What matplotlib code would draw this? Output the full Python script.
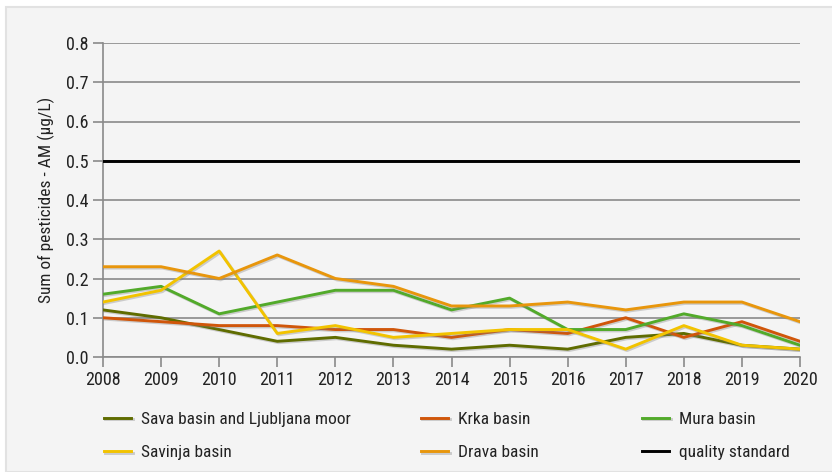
import matplotlib
matplotlib.use('Agg')
from matplotlib import pyplot as plt
from matplotlib import patheffects as pe
from matplotlib.patches import Rectangle

years = [2008, 2009, 2010, 2011, 2012, 2013, 2014, 2015, 2016, 2017, 2018, 2019, 2020]

sava = [0.12, 0.10, 0.07, 0.04, 0.05, 0.03, 0.02, 0.03, 0.02, 0.05, 0.06, 0.03, 0.02]
krka = [0.10, 0.09, 0.08, 0.08, 0.07, 0.07, 0.05, 0.07, 0.06, 0.10, 0.05, 0.09, 0.04]
mura = [0.16, 0.18, 0.11, 0.14, 0.17, 0.17, 0.12, 0.15, 0.07, 0.07, 0.11, 0.08, 0.03]
savinja = [0.14, 0.17, 0.27, 0.06, 0.08, 0.05, 0.06, 0.07, 0.07, 0.02, 0.08, 0.03, 0.02]
drava = [0.23, 0.23, 0.20, 0.26, 0.20, 0.18, 0.13, 0.13, 0.14, 0.12, 0.14, 0.14, 0.09]
quality_standard = 0.5

series = [
    ("Sava basin and Ljubljana moor", sava, "#5f6c00"),
    ("Krka basin", krka, "#d0560a"),
    ("Mura basin", mura, "#52aa2a"),
    ("Savinja basin", savinja, "#f2c300"),
    ("Drava basin", drava, "#e8960c"),
]

plt.rcParams['font.family'] = ['Roboto Condensed', 'Liberation Sans Narrow', 'DejaVu Sans']
plt.rcParams['font.stretch'] = 'condensed'

fig = plt.figure(figsize=(8.32, 4.72), dpi=100, facecolor='white')
# light gray panel with thin border, behind the axes
fig.patches.append(Rectangle((6 / 832, 0), 1, 1 - 7 / 472, transform=fig.transFigure,
                             facecolor='#f4f4f4', edgecolor='#e2e2e2', linewidth=1.5,
                             zorder=-10))

ax = fig.add_axes([103 / 832, 1 - 357 / 472, (800 - 103) / 832, (357 - 43) / 472])
ax.set_facecolor('none')

shadow = [pe.SimpleLineShadow(offset=(1, -1), shadow_color='gray', alpha=0.35), pe.Normal()]

handles = {}
for name, vals, color in series:
    line, = ax.plot(years, vals, color=color, linewidth=2.1, label=name,
                    path_effects=shadow, zorder=3)
    handles[name] = line
qs = ax.axhline(quality_standard, color='black', linewidth=2.1, label='quality standard', zorder=3)
handles['quality standard'] = qs

ax.set_xlim(2008, 2020)
ax.set_ylim(0, 0.8)
ax.set_xticks(years)
ax.set_yticks([i / 10 for i in range(9)])
ax.set_yticklabels([f"{i / 10:.1f}" for i in range(9)])
ax.grid(axis='y', color='#8a8a8a', linewidth=1.2, zorder=1)
ax.set_axisbelow(True)

for s in ['top', 'right']:
    ax.spines[s].set_visible(False)
for s in ['left', 'bottom']:
    ax.spines[s].set_color('#8a8a8a')
    ax.spines[s].set_linewidth(1.2)
ax.tick_params(axis='both', colors='#8a8a8a', length=7, width=1.2, labelsize=13,
               labelcolor='#222222')
ax.tick_params(axis='x', pad=3)

ax.set_ylabel("Sum of pesticides - AM (µg/L)", fontsize=12.5, color='#222222', labelpad=8)

# legend: three columns, each placed at its own x position
columns = [
    (["Sava basin and Ljubljana moor", "Savinja basin"], 95),
    (["Krka basin", "Drava basin"], 412),
    (["Mura basin", "quality standard"], 633),
]
for names, x0 in columns:
    leg = fig.legend([handles[n] for n in names], names, loc='upper left',
                     bbox_to_anchor=(x0 / 832, 1 - 403 / 472), frameon=False, fontsize=12.5,
                     borderpad=0, handlelength=1.6, handletextpad=0.55, labelspacing=1.05,
                     labelcolor='#222222')

fig.savefig('out.png', dpi=100, facecolor=fig.get_facecolor())
